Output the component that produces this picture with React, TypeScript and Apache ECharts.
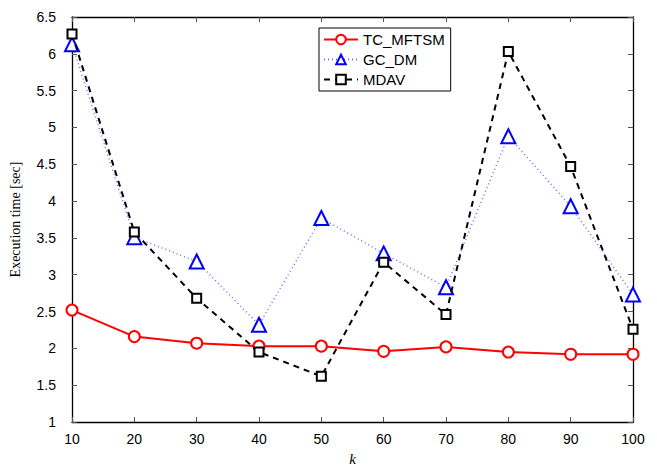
import React, { useEffect, useRef } from "react";
import * as echarts from "echarts";

const kValues = [10, 20, 30, 40, 50, 60, 70, 80, 90, 100];
const tcMftsm = [2.52, 2.16, 2.07, 2.03, 2.03, 1.96, 2.02, 1.95, 1.92, 1.92];
const gcDm = [6.13, 3.51, 3.18, 2.32, 3.77, 3.29, 2.83, 4.88, 3.93, 2.73];
const mdav = [6.27, 3.58, 2.68, 1.95, 1.62, 3.17, 2.46, 6.03, 4.47, 2.26];

const pairs = (ys: number[]) => kValues.map((k, i) => [k, ys[i]]);

export default function App() {
  const ref = useRef<HTMLDivElement>(null);
  useEffect(() => {
    if (!ref.current) return;
    const chart = echarts.init(ref.current, undefined, { renderer: "svg" });
    const sans = "Liberation Sans, Arial, sans-serif";
    const serif = "Liberation Serif, Times New Roman, serif";
    const axisCommon = {
      axisLine: { show: true, lineStyle: { color: "#000", width: 1.3 } },
      axisTick: { show: true, inside: true, length: 5, lineStyle: { color: "#555" } },
      splitLine: { show: false },
    };
    chart.setOption({
      animation: false,
      backgroundColor: "#fff",
      grid: { left: 72, right: 24, top: 17, bottom: 40, containLabel: false },
      legend: {
        orient: "vertical",
        left: 319,
        top: 28,
        itemWidth: 34,
        itemHeight: 12,
        itemGap: 5,
        padding: [4, 6, 4, 4],
        borderColor: "#000",
        borderWidth: 1,
        backgroundColor: "#fff",
        textStyle: { fontFamily: sans, fontSize: 15, color: "#000" },
        data: ["TC_MFTSM", "GC_DM", "MDAV"],
      },
      xAxis: [
        {
          type: "value",
          min: 10,
          max: 100,
          interval: 10,
          ...axisCommon,
          axisLabel: { color: "#000", fontFamily: sans, fontSize: 14, margin: 10 },
          name: "k",
          nameLocation: "middle",
          nameGap: 29,
          nameTextStyle: { fontFamily: serif, fontStyle: "italic", fontSize: 15, color: "#000" },
        },
        {
          type: "value",
          position: "top",
          min: 10,
          max: 100,
          interval: 10,
          ...axisCommon,
          axisLabel: { show: false },
        },
      ],
      yAxis: [
        {
          type: "value",
          min: 1,
          max: 6.5,
          interval: 0.5,
          ...axisCommon,
          axisLabel: { color: "#000", fontFamily: sans, fontSize: 14, margin: 16 },
          name: "Execution time [sec]",
          nameLocation: "middle",
          nameGap: 50,
          nameTextStyle: { fontFamily: serif, fontSize: 14, color: "#000" },
        },
        {
          type: "value",
          position: "right",
          min: 1,
          max: 6.5,
          interval: 0.5,
          ...axisCommon,
          axisLabel: { show: false },
        },
      ],
      series: [
        {
          name: "TC_MFTSM",
          type: "line",
          data: pairs(tcMftsm),
          symbol: "emptyCircle",
          symbolSize: 11,
          lineStyle: { color: "#ff0000", width: 2 },
          itemStyle: { color: "#ff0000", borderColor: "#ff0000", borderWidth: 2 },
          z: 3,
        },
        {
          name: "GC_DM",
          type: "line",
          data: pairs(gcDm),
          symbol: "emptyTriangle",
          symbolSize: 14,
          lineStyle: { color: "#6f6fff", width: 1.5, type: [1, 3] },
          itemStyle: { color: "#0000ff", borderColor: "#0000ff", borderWidth: 2 },
          z: 4,
        },
        {
          name: "MDAV",
          type: "line",
          data: pairs(mdav),
          symbol: "emptyRect",
          symbolSize: 9,
          lineStyle: { color: "#000", width: 2, type: [6, 5] },
          itemStyle: { color: "#000", borderColor: "#000", borderWidth: 2.2 },
          z: 5,
        },
      ],
    });
    return () => chart.dispose();
  }, []);
  return <div ref={ref} style={{ width: 657, height: 471, position: "absolute", left: 0, top: 0 }} />;
}
